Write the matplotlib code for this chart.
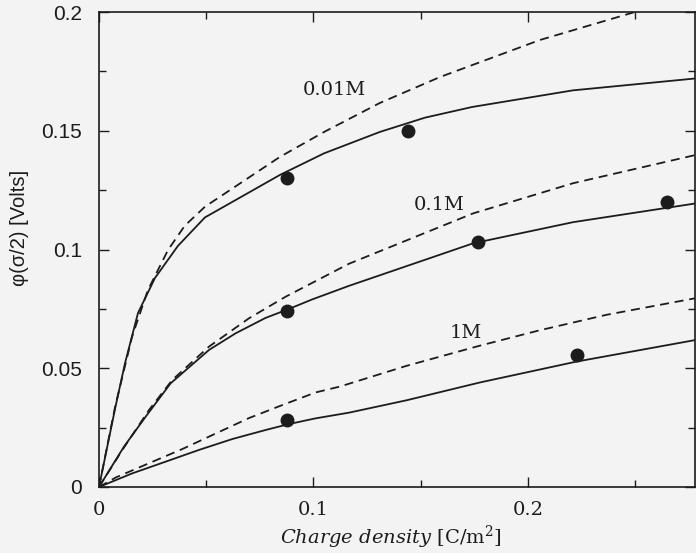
import matplotlib
matplotlib.use('Agg')
import matplotlib.pyplot as plt

# 0.01M curves (solid / dashed)
x_001_solid = [0, 0.0075, 0.0121, 0.0182, 0.0261, 0.0368, 0.0494, 0.0844, 0.105, 0.131, 0.152, 0.174, 0.221, 0.278]
y_001_solid = [0, 0.033, 0.052, 0.0733, 0.0880, 0.1015, 0.1135, 0.1314, 0.1405, 0.1495, 0.1555, 0.1600, 0.167, 0.172]
x_001_dash = [0, 0.0075, 0.0154, 0.0228, 0.0322, 0.0400, 0.0494, 0.0844, 0.105, 0.131, 0.159, 0.2056, 0.250]
y_001_dash = [0, 0.0337, 0.0632, 0.0829, 0.0998, 0.1100, 0.118, 0.139, 0.1495, 0.1617, 0.1726, 0.1882, 0.200]

# 0.1M curves
x_01_solid = [0, 0.01166, 0.02176, 0.0334, 0.0513, 0.0637, 0.0777, 0.0881, 0.0995, 0.1166, 0.1745, 0.2211, 0.2783]
y_01_solid = [0, 0.0170, 0.0296, 0.04365, 0.0577, 0.0647, 0.0712, 0.0748, 0.0790, 0.0847, 0.1026, 0.1115, 0.1194]
x_01_dash = [0, 0.0109, 0.0233, 0.0342, 0.0513, 0.0699, 0.087, 0.1166, 0.1745, 0.2211, 0.2783]
y_01_dash = [0, 0.0156, 0.0324, 0.0451, 0.0591, 0.0710, 0.0801, 0.0940, 0.1152, 0.1279, 0.1398]

# 1M curves
x_1_solid = [0, 0.01554, 0.0311, 0.0466, 0.0622, 0.0777, 0.0886, 0.101, 0.1166, 0.1434, 0.1776, 0.2227, 0.2783]
y_1_solid = [0, 0.00575, 0.01067, 0.0156, 0.0202, 0.0240, 0.0265, 0.0289, 0.0313, 0.0365, 0.0440, 0.0528, 0.0619]
x_1_dash = [0, 0.0078, 0.0233, 0.0389, 0.0544, 0.0699, 0.0855, 0.101, 0.1124, 0.1434, 0.1776, 0.2056, 0.2367, 0.2783]
y_1_dash = [0, 0.0040, 0.0100, 0.0160, 0.0225, 0.0290, 0.0345, 0.0398, 0.0423, 0.0510, 0.0595, 0.0660, 0.0725, 0.0795]

# simulation points
pts_x = [0.0876, 0.144, 0.0876, 0.1767, 0.265, 0.0876, 0.2228]
pts_y = [0.130, 0.150, 0.0741, 0.1032, 0.120, 0.0282, 0.0556]

labels = ['0.01M', '0.1M', '1M']
label_x = [0.1096, 0.1585, 0.171]
label_y = [0.167, 0.1187, 0.065]

bg = '#f3f3f3'
ink = '#1c1c1c'

plt.rcParams['mathtext.fontset'] = 'dejavuserif'

fig = plt.figure(figsize=(6.96, 5.53), dpi=100, facecolor=bg)
ax = fig.add_axes([99/696, 66/553, 596/696, 475/553], facecolor=bg)

dash = (0, (5, 3.2))
kw = dict(color=ink, lw=1.3, solid_joinstyle='round')
ax.plot(x_001_solid, y_001_solid, **kw)
ax.plot(x_001_dash, y_001_dash, linestyle=dash, **kw)
ax.plot(x_01_solid, y_01_solid, **kw)
ax.plot(x_01_dash, y_01_dash, linestyle=dash, **kw)
ax.plot(x_1_solid, y_1_solid, **kw)
ax.plot(x_1_dash, y_1_dash, linestyle=dash, **kw)
ax.plot(pts_x, pts_y, 'o', color=ink, ms=9, clip_on=False)

for t, x, y in zip(labels, label_x, label_y):
    ax.text(x, y, t, ha='center', va='center', fontsize=14,
            family='DejaVu Serif', color=ink)

ax.set_xlim(0, 0.278)
ax.set_ylim(0, 0.2)

ax.set_xticks([0, 0.1, 0.2])
ax.set_xticklabels(['0', '0.1', '0.2'], family='DejaVu Serif', fontsize=14)
ax.set_xticks([0.05, 0.15, 0.25], minor=True)
ax.set_yticks([0, 0.05, 0.1, 0.15, 0.2])
ax.set_yticklabels(['0', '0.05', '0.1', '0.15', '0.2'], family='Liberation Sans', fontsize=15)
ax.set_yticks([0.025, 0.075, 0.125, 0.175], minor=True)

ax.tick_params(which='both', direction='in', top=True, right=True, color=ink, labelcolor=ink)
ax.tick_params(which='major', length=7, width=1)
ax.tick_params(which='minor', length=5, width=1)
ax.tick_params(axis='y', which='major', pad=12)
ax.tick_params(axis='x', which='major', pad=10)
for s in ax.spines.values():
    s.set_color(ink)
    s.set_linewidth(1.2)

ax.set_xlabel(r'$\it{Charge\ density}$ [C/m$^2$]', fontsize=14, family='DejaVu Serif', color=ink)
ax.xaxis.set_label_coords(0.49, -0.078)
ax.set_ylabel('\u03c6(\u03c3/2) [Volts]', fontsize=14.5, family='Liberation Sans', color=ink)
ax.yaxis.set_label_coords(-0.118, 0.546)

fig.savefig('out.png', dpi=100, facecolor=bg)
